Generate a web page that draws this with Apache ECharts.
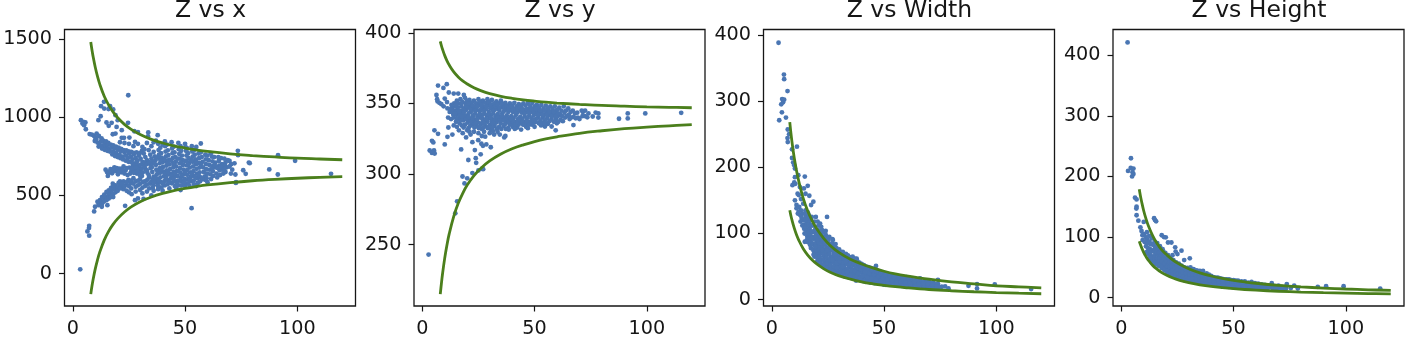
<!DOCTYPE html>
<html><head><meta charset="utf-8">
<style>html,body{margin:0;padding:0;background:#fff}#c{width:1411px;height:340px}</style>
<script src="https://cdn.jsdelivr.net/npm/echarts@6/dist/echarts.min.js"></script>
</head><body><div id="c"></div>
<script>
const titles = ['Z vs x','Z vs y','Z vs Width','Z vs Height'];
const xTicks = [0,50,100];
const yTicksA = [0,500,1000,1500];
const yTicksB = [250,300,350,400];
const yTicksC = [0,100,200,300,400];
const yTicksD = [0,100,200,300,400];

const curveX = [8,8.5,9,10,11,12,14,16,18,20,23,26,30,35,40,45,50,55,60,70,80,90,100,110,120];
const upperA = [1480,1432,1390,1319,1260,1211,1134,1077,1032,996,954,922,889,858,835,817,803,791,781,766,755,746,738,733,728];
const lowerA = [-130,-82,-40,31,89,138,215,272,317,352,394,427,460,490,513,531,545,557,567,582,594,603,610,616,620];
const upperB = [394,391,388.4,383.9,380.2,377.2,372.4,368.8,366,363.8,361.1,359.1,357,355.1,353.7,352.6,351.7,350.9,350.3,349.4,348.6,348.1,347.6,347.3,347];
const lowerB = [215,222.5,229.3,240.7,250,257.8,270.1,279.3,286.4,292.2,298.9,304,309.3,314.2,317.9,320.7,323,324.9,326.4,328.9,330.7,332.2,333.3,334.2,335];
const upperC = [268,252,238,214,195,179,153,134,119,107,93,82,71,61,54,48,43,39,36,31,27,24,21,19.5,18];
const lowerC = [135,127,120,108,98,90,77,67.5,60,54,47,41.5,36,31,27,24,21.6,19.6,18,15.4,13.5,12,10.8,9.8,9];
const upperD = [178.7,168,159,143,130,119,102,89,79,71.5,62,55,47.7,40.9,35.8,31.8,28.6,26,23.8,20.4,17.9,15.9,14.3,13,12];
const lowerD = [93,87.6,83,74.5,67.7,62,53,46.6,41.4,37.3,32.4,28.7,24.8,21.3,18.6,16.6,14.9,13.5,12.4,10.6,9.3,8.3,7.5,6.8,6.2];

const pointsA = [
[3.3,28],[24.7,1140],[52.9,419],[115,638],[99,721],[91.4,757],[91.3,634],[87.5,666],[78.4,710],[78.8,706],[75.9,661],[77,638],[73.5,785],[73.6,757],[72.6,580],[72.4,634],[70.4,640],[69.8,720],[57,832],
[7.3,306],[7.2,292],[6.5,270],[7.3,243],[9.5,398],[3.6,981],[4.7,970],[5.6,966],[5,949],[5.8,923],[4.3,960],
[13.9,1098],[16.6,1070],[12.6,1070],[14,1055],[15.9,1052],[18,1049],[19,1013],[12.4,1006],[11.4,981],[15,966],[17.3,964],[20,981],[24.6,964],[19.5,938],[21.8,917],[17.8,891],[21.8,868],[22.8,868],[25.2,870],[27.4,910],[27.7,842],[33.6,902],[37.8,885],[33.5,878],[37,850],[29,905],[16,945],[19,895],
[9.9,428],[11.4,438],[12.9,428],[12.1,470],[13.6,460],[15.4,438],[23.3,434],[15,491],[14,480],[16,500],[17.3,513],[18,490],[19.6,534],[21,566],[22.5,540],[26.2,508],[27.7,470],[29,481],[31,513],[31.5,478],[35,500],[40,530],[46,550],[48,535],[52,560],[60,585],[72.7,585],
[7.5,892],[8.5,888],[9.5,880],[10,870],[10.5,860],[11,838],[12,825],[9.8,848],[11.5,812],[12.5,845],[13.2,815],[14.1,832],[14.6,808],[15.4,822],[16.2,798],[17.1,806],[18,782],[18.6,800],[19.3,770],[20,792],[20.8,760],[21.4,782],[22.2,748],[23,775],[23.6,755],[24.5,738],[25,768],[25.8,748],[26.6,730],[27.2,762],[28,740],[28.8,722],[29.4,755],[30.2,735],[31,715],[31.6,768],[32.3,745],[33,725],[33.8,790],[34.5,760],[35,735],[35.8,705],
[15.2,650],[15.6,625],[16.8,668],[17.5,642],[18.5,680],[19.2,655],[20.1,635],[21,672],[21.8,648],[22.6,685],[23.5,660],[24.4,630],[25.2,678],[26,652],[26.8,690],[27.6,665],[28.5,640],[29.3,680],[30,655],[30.8,625],[31.6,695],[32.4,668],[33.2,645],[34,615],
[17.8,575],[18.8,555],[20.4,580],[21.4,558],[22.6,590],[23.8,570],[24.8,600],[25.8,578],[27,610],[28,590],[29,565],[30,605],[31.2,585],[32.2,560],[33.2,600],[34.4,575],[35.6,548],
[36,778],[36.5,750],[36.8,725],[37,695],[37.2,665],[37.4,635],[37.6,605],[37.8,578],[38.2,555],
[39,805],[39.3,770],[39.6,742],[40,712],[40.2,682],[40.4,652],[40.6,622],[40.8,592],[41,565],
[42,825],[42.3,788],[42.6,758],[42.9,728],[43.1,698],[43.3,668],[43.5,638],[43.7,608],[44,578],
[45,812],[45.3,775],[45.6,745],[45.9,715],[46.1,685],[46.3,655],[46.5,625],[46.7,595],[47,565],
[48,815],[48.3,785],[48.6,755],[48.9,725],[49.1,695],[49.3,665],[49.5,635],[49.7,605],[50,578],
[51,800],[51.3,770],[51.6,740],[51.9,708],[52.1,678],[52.3,648],[52.5,618],[52.7,590],
[54,790],[54.3,760],[54.6,730],[54.9,700],[55.1,670],[55.3,640],[55.5,610],[55.7,580],
[57,775],[57.4,745],[57.8,715],[58,680],[58.3,650],[58.6,620],[58.9,600],
[60,755],[60.5,725],[60.8,695],[61,665],[61.3,635],[61.6,605],
[63,745],[63.4,710],[63.7,680],[64,640],[64.3,615],[66,738],[66.4,700],[66.8,665],[67,640],[68,710],[68.6,680],[69,725],[70.5,700],[71,665],[72,705]
];
const fillA = [
[10.6,895],[11.6,880],[12.8,865],[13.5,850],[14.8,845],[15.8,835],[16.9,825],[18,820],[19.2,812],[20.4,805],[21.5,798],[22.6,790],[23.8,788],[24.8,782],[26,778],[27.1,772],[28.4,775],[29.8,770],[30.8,785],[31.9,795],
[13,800],[14.2,792],[15.4,785],[16.5,780],[17.6,762],[18.8,752],[20,745],[21.2,738],[22.4,730],[23.6,722],[24.8,715],[26,712],[27.2,705],[28.4,700],
[14.6,665],[16,645],[17,655],[18,662],[19.6,675],[20.6,650],[22,665],[23,640],[24,675],[25.6,640],[26.4,670],[27.2,645],[28,680],[29,655],[29.8,630],[30.6,672],[31.2,648],[32,682],[33,660],[33.8,630],[34.6,675],[35.4,650],[36,620],
[16,515],[17,530],[18,540],[19,565],[20,550],[21,590],[22,575],[23,555],[24,585],[25,560],[26,595],[27,575],[28,555],[29,595],[30,575],[31,550],[32,590],[33,570],[34,545],[35,590],[36,565],[37,590],[38,540],
[34.8,700],[35.2,680],[35.6,718],[35.8,605],[36.2,585],
[38.2,790],[38.4,760],[38.6,735],[38.7,705],[38.8,675],[38.9,645],[39,615],[39.2,585],[39.5,550],
[41.1,815],[41.3,780],[41.5,750],[41.6,720],[41.7,690],[41.8,660],[41.9,630],[42,600],[42.2,572],
[44.2,800],[44.4,770],[44.6,740],[44.7,710],[44.8,680],[44.9,650],[45,620],[45.2,590],[45.4,560],
[47.2,795],[47.4,765],[47.6,735],[47.7,705],[47.8,675],[47.9,645],[48,615],[48.2,590],[48.4,565],
[50.2,810],[50.4,785],[50.6,755],[50.7,722],[50.8,692],[50.9,662],[51,632],[51.2,602],[51.4,575],
[53.2,780],[53.4,748],[53.5,715],[53.6,685],[53.7,655],[53.8,625],[53.9,595],[54,570],
[56,768],[56.2,738],[56.3,708],[56.4,678],[56.5,648],[56.6,618],[56.7,590],
[59,760],[59.2,730],[59.3,700],[59.4,668],[59.5,638],[59.6,610],
[62,748],[62.2,718],[62.3,688],[62.4,655],[62.5,625],[65,720],[65.2,690],[65.4,660],[65.6,630],[67.5,735],[67.8,690],[68,650],[69.8,685],[64.8,745],[61.5,770]
];
const edgeA = [
[11,460],[12,450],[13,445],[14,465],[15,470],[16,480],[17,490],[18,510],[19,520],[20,530],[21,545],[13,490],[14,505],[15,522],[16,533],[17,548],[18,565],[24,530],[25,520],[26,545],[28,525],[30,535],[33,525],[36,530],[38,560],[43,545],[50,560],[55,560],
[21,840],[23,835],[25,830],[27,815],[29,830],[31,810],[33,835],[35,815],[36,840],[38,830],[40,825],[41,845],[44,840],[47,835],[50,830],[53,815],[55,810],
[31.8,710],[33,700],[34,712],[30,695],[28.6,720],[36.4,705],[37.5,742],[39.2,722],[40.8,732],[42.2,705],[43.6,725],[45,695],[46.6,735],[48.3,708],[50,720],[51.3,695],[52.8,725],[55,715],[57,695],
[37.9,655],[39.4,665],[40.9,640],[42.4,650],[43.9,625],[45.5,640],[47,655],[48.5,625],[50,648],[51.5,605],[53,638],[54.6,615],[56,630],[57.6,605],[36.8,615],[38.3,595],[40,575],[41.6,610],[43,585],[44.9,605],[46.4,575],[48,598],[49.5,585],[52,600],[60,640],[62,670],[63.2,695],[64.5,675],[66,680],[67.5,670]
];

const pointsB = [
[2.8,243],[7,362.7],[9.4,361],[10.9,363.7],[6.3,356],[11.8,357.8],[14,357],[16,357],[18.5,356],[6.6,353],[6.8,351.5],[7.6,350.5],[8.5,349.5],[9.5,348],[10,353.5],[11,351],[11.2,346.5],
[5.4,331],[7,328.5],[4.3,323.6],[4.9,322.4],[3.3,316.7],[5.2,316.7],[4.3,315],[5.5,314.6],[10,321],[11.2,326.4],[11.6,333],[13.4,328],[17.3,317.5],[20.5,310],[23.4,317],[23.8,311.3],[24,308],[26,314],[30.5,319],[22.3,322.6],[24.9,324],[26.3,321.5],[27,320],[28.5,321],[22.3,300.7],[25,302.6],[26.6,303.8],[27.1,303.5],[17.9,298.3],[20,297],[18.8,293.4],[15.5,280.7],[14.7,272.2],
[115.3,343.4],[99.3,343],[91.5,343],[91.5,339.4],[87.6,339.2],[78.4,343],[78.4,340],[77.2,343.6],[75.9,340.8],[73.5,340.2],[72.5,345],[71.5,344],[67.3,334.7],[59.4,331],[57.6,333.7],[54.6,333.7],
[18,329],[20,331],[19.5,326],[21.5,328],[23,330],[25,329],[26.5,327],[28,326.5],[30,329],[32,328],[34.5,328],[37,327],[36.5,326],
[11.5,340],[12.2,344],[12.8,339],[13.4,347],[13.8,342],[14.2,350],[14.6,345],[15,337],[15.4,352],[15.8,347],[16.2,342],[16.6,336],[17,353],[17.4,348],[17.8,343],[18.2,338],[18.4,333],
[19,354],[19.3,350],[19.6,345.5],[19.9,341],[20.2,336.5],[20.5,332.5],[21,352.5],[21.3,348.5],[21.6,344],[21.9,339.5],[22.2,335],[23,352],[23.3,347.5],[23.6,343],[23.9,338.5],[24.2,334],
[25,353],[25.3,349],[25.6,344.5],[25.9,340],[26.2,335.5],[26.5,332],[27,352],[27.3,347.5],[27.6,343],[27.9,338.5],[28.2,334],[29,353],[29.3,348.5],[29.6,344],[29.9,339.5],[30.2,335],[30.5,331.5],
[31,352.5],[31.3,347.5],[31.6,343],[31.9,338.5],[32.2,334],[33,351.5],[33.3,347],[33.6,342.5],[33.9,338],[34.2,333.5],[35,352],[35.3,347.5],[35.6,343],[35.9,338.5],[36.2,334],
[37,350.5],[37.3,346],[37.6,341.5],[37.9,337],[38.2,332.5],[39,350],[39.3,345.5],[39.6,341],[39.9,336.5],[40.2,333.5],[41,350.5],[41.3,346],[41.6,341.5],[41.9,337],[42.2,333],
[43,349.5],[43.3,345],[43.6,340.5],[43.9,336.5],[45,350],[45.3,345.5],[45.6,341],[45.9,337],[46.2,333.5],[47,350.5],[47.3,346],[47.6,341.5],[47.9,337],[49,350.5],[49.3,346],[49.6,341.5],[49.9,336.5],[50,333.5],
[51,349],[51.3,344.5],[51.6,340],[51.9,336],[53,349],[53.3,344.5],[53.6,340],[53.9,336],[55,348.5],[55.3,344],[55.6,339.5],[55.9,335.5],[57,348],[57.3,343.5],[57.6,339],[59,348],[59.3,343.5],[59.6,339],[59.9,336],
[61,347],[61.3,342.5],[61.6,338.5],[63,348],[63.3,343.5],[63.6,340],[65,346.5],[65.3,342],[65.6,339],[67,345],[67.3,340.5],[69,343.5],[69.3,340],[71,345],[71.3,341],[70,339]
];
const fillB = [
[13,349],[14,340],[14.8,348],[15.2,342],[16,350],[16.4,339],[17.2,345],[17.6,334.5],[18,351],[18.4,346],[18.8,341],[19,335],
[20,352],[20.3,347.5],[20.6,343],[20.9,338.5],[21.2,334],[22,350.5],[22.3,346],[22.6,341.5],[22.9,337],[23.2,333],[24,350],[24.3,345.5],[24.6,341],[24.9,336.5],[25.2,332.5],
[26,351],[26.3,346.5],[26.6,342],[26.9,337.5],[27.2,333],[28,350.5],[28.3,346],[28.6,341.5],[28.9,337],[29.2,332.5],[30,351],[30.3,346.5],[30.6,342],[30.9,337.5],[31.2,333],
[32,350],[32.3,345.5],[32.6,341],[32.9,336.5],[33.2,332],[34,350],[34.3,345],[34.6,340.5],[34.9,336],[35.2,332],[36,349],[36.3,344.5],[36.6,340],[36.9,335.5],[37.2,332],
[38,348.5],[38.3,344],[38.6,339.5],[38.9,335],[40,348.5],[40.3,344],[40.6,339.5],[40.9,335],[41.2,332],[42,348],[42.3,343.5],[42.6,339],[42.9,335],[44,348],[44.3,343.5],[44.6,339],[44.9,335],
[46,348.5],[46.3,344],[46.6,339.5],[46.9,335],[48,348.5],[48.3,344],[48.6,339.5],[48.9,335],[50,348],[50.3,343.5],[50.6,339],[52,347],[52.3,342.5],[52.6,338],[52.9,334.5],[54,346.5],[54.3,342],[54.6,338],[56,346.5],[56.3,342],[56.6,337.5],[58,346],[58.3,341.5],[58.6,337],
[60,345.5],[60.3,341],[60.6,337],[62,345],[62.3,341],[62.6,337.5],[64,345],[64.3,341],[66,344],[66.3,340],[68,343],[68.3,339.5],[72.5,341],[74,343],
[13.2,344],[12.4,346],[15,349],[15.6,344],[16.8,341],[17.8,338.5],[14,334.5],[15.4,333.5],[16.3,331],[21,330],[27.5,330],[31.5,330.5],[33.5,330],[38.5,331.5],[44,331.5],[47,332.5]
];
const holesB = [
[14.5,343],[15.4,339],[16.5,344.5],[17.4,350],[17.6,341],[18.5,343.5],[19.4,348],[19.5,339],[20.5,350],[20.6,340.5],[21.5,346],[21.5,337],[22.5,348.5],[22.5,339.5],[23.5,345],[23.5,336],[24.5,348],[24.5,339],[25.5,351],[25.5,342],[25.5,333.5],[26.5,349],[26.5,340],[27.5,345],[27.5,336],[28.5,348],[28.5,339],[29.5,351],[29.5,342],[29.5,333.5],[30.5,349],[30.5,340],[31.5,345],[31.5,336],[32.5,348],[32.5,339],[33.5,349],[33.5,340],[34.5,347],[34.5,338],[35.5,350],[35.5,341],[36.5,347],[36.5,338],[37.5,348],[37.5,339],[38.5,346],[38.5,337],[39.5,348],[39.5,339],[40.5,346],[40.5,337],[41.5,344],[41.5,335],[42.5,346],[42.5,337],[43.5,347],[43.5,338],[44.5,346],[44.5,337],[45.5,343],[45.5,335],[46.5,346],[46.5,337],[47.5,344],[47.5,335],[48.5,346],[48.5,337],[49.5,344],[49.5,338],[50.5,346],[50.5,337],[51.5,342],[52.5,345],[52.5,336],[53.5,342],[54.5,345],[54.5,336],[55.5,342],[56.5,344],[57.5,341],[58.5,344],[59.5,341],[60.5,343]
];

const pointsC = [
[3,388],[5.4,340],[5.5,333],[7,315],[4.6,303],[5.5,302],[5,298],[4.2,295],[4.5,283],[3.3,271],[6.3,275],[7.1,257],[7.7,250],[7,244],[7.1,238],[11.2,231],[9,227],[9,214],[9.5,207],[10,203],[10.3,198],[11.8,188],[14.7,186],[10.3,185],[10,177],[9.2,173],[10.5,175],[12.5,170],[14.3,168],[16,172],[16.7,157],[18.5,148],[17.5,143],[11.5,160],[12,158],[10.3,150],[11,143],[13,152],[15,160],[14,145],[19.6,125],[24.6,125],[21.5,115],[24,104],[27,91.6],[37.8,62],[33.8,67],[36,65],[46.4,51],[74,30],[99.3,23],[91.4,23.6],[91.4,17],[87.6,21],[78.7,17],[77.2,20],[75.7,19.6],[115.5,16],[14.7,87.5],
[11,138],[11.6,130],[12.2,140],[12.6,128],[13,135],[13.4,122],[13.8,130],[14,113],[14.2,120],[14.4,107],[14.6,100],[15,135],[15.2,125],[15.4,115],[15.6,105],[15.8,95],[16,87],[16.4,128],[16.6,118],[16.8,108],[17,98],[17.2,88],[17.4,78],[17.8,125],[18,112],[18.2,102],[18.4,92],[18.6,83],[18.8,73],[19,65],
[19.4,110],[19.6,100],[19.8,90],[20,80],[20.2,70],[20.4,60],[20.8,112],[21,100],[21.2,90],[21.4,80],[21.6,70],[21.8,60],[22,53],[22.4,105],[22.6,95],[22.8,85],[23,76],[23.2,66],[23.4,57],[23.6,50],[24,98],[24.2,88],[24.4,78],[24.6,69],[24.8,60],[25,52],[25.2,46],
[25.6,95],[25.8,84],[26,74],[26.2,65],[26.4,56],[26.6,48],[27.2,90],[27.4,80],[27.6,70],[27.8,60],[28,52],[28.2,44],[28.8,78],[29,68],[29.2,59],[29.4,50],[29.6,42],[30.4,72],[30.6,63],[30.8,54],[31,45],[31.2,39],[32,68],[32.2,60],[32.4,52],[32.6,44],[32.8,37],
[34,66],[34.2,58],[34.4,50],[34.6,42],[34.8,35],[36,60],[36.2,52],[36.4,45],[36.6,38],[36.8,32],[38,59],[38.2,51],[38.4,44],[38.6,37],[38.8,30],[40,54],[40.2,47],[40.4,40],[40.6,33],[40.8,28],
[42,50],[42.2,44],[42.4,38],[42.6,32],[42.8,27],[44,48],[44.2,42],[44.4,36],[44.6,30],[44.8,26],[46,46],[46.2,40],[46.4,34],[46.6,29],[46.8,25],[48,42],[48.2,37],[48.4,31],[48.6,26],[50,40],[50.2,35],[50.4,30],[50.6,25],[50.8,22.5],
[52,38],[52.3,33],[52.6,28],[52.9,24],[54,37],[54.3,32],[54.6,27],[54.9,22.5],[56,35],[56.3,30],[56.6,26],[56.9,22],[58,33],[58.3,29],[58.6,24],[58.9,20.5],[60,34],[60.3,28],[60.6,23],[60.9,20],
[62,30],[62.4,25],[62.8,20.5],[64,29],[64.4,24],[64.8,20],[66,32],[66.4,26],[66.8,21],[68,28],[68.4,23],[68.8,18.5],[70,27],[70.4,22],[70.8,18],[72,26],[72.4,21],[72.8,17.5],[74,24],[74.4,19]
];
const fillC = [
[12,133],[12.8,118],[13.2,125],[13.6,112],[14.8,130],[15,120],[15.2,110],[15.4,100],[15.6,90],[16,132],[16.2,123],[16.4,113],[16.6,103],[16.8,93],[17,83],[17.4,122],[17.6,113],[17.8,103],[18,95],[18.2,85],[18.4,76],[18.6,68],
[19,118],[19.2,105],[19.4,95],[19.6,85],[19.8,75],[20,65],[20.2,57],[20.4,118],[20.6,105],[20.8,95],[21,85],[21.2,75],[21.4,65],[21.6,56],[22,110],[22.2,100],[22.4,90],[22.6,80],[22.8,71],[23,61],[23.2,52],[23.6,102],[23.8,93],[24,83],[24.2,73],[24.4,64],[24.6,55],[24.8,48],
[25.2,90],[25.4,79],[25.6,69],[25.8,60],[26,51],[26.2,45],[26.8,85],[27,75],[27.2,65],[27.4,56],[27.6,47],[27.8,42],[28.4,84],[28.6,73],[28.8,63],[29,54],[29.2,46],[29.4,39],[30,76],[30.2,67],[30.4,58],[30.6,49],[30.8,42],[31.6,72],[31.8,64],[32,56],[32.2,48],[32.4,40],[32.6,35],
[33,69],[33.2,62],[33.4,54],[33.6,46],[33.8,39],[34,34],[35,64],[35.2,55],[35.4,47],[35.6,40],[35.8,33],[37,62],[37.2,55],[37.4,48],[37.6,41],[37.8,35],[38,30],[39,56],[39.2,49],[39.4,42],[39.6,35],[39.8,29],[41,52],[41.2,45],[41.4,38],[41.6,31],[41.8,27],
[43,49],[43.2,43],[43.4,37],[43.6,31],[43.8,26],[45,47],[45.2,41],[45.4,35],[45.6,29],[45.8,25],[47,44],[47.2,38],[47.4,32],[47.6,27],[49,41],[49.2,36],[49.4,31],[49.6,26],[49.8,23],
[51,39],[51.3,34],[51.6,29],[51.9,25],[53,37],[53.3,32],[53.6,27],[53.9,23],[55,36],[55.3,31],[55.6,27],[55.9,23],[57,34],[57.3,29],[57.6,25],[57.9,21],[59,32],[59.3,28],[59.6,24],[59.9,20],
[61,31],[61.3,27],[61.6,23],[61.9,20],[63,29],[63.4,25],[63.8,21],[65,29],[65.4,25],[65.8,21],[67,27],[67.4,23],[67.8,19],[69,26],[69.4,22],[69.8,18],[71,25],[71.4,21],[71.8,18],[73,23],[73.4,19]
];
const holesC = [
[19.5,80],[20.5,90],[21.5,95],[22.5,75],[23.5,85],[24.5,95],[25,75],[26,79],[27,60],[27.5,50],[28,68],[29,48],[30,62],[31,68],[31.5,50],[32,42],[33,57],[33.5,42],[34.5,62],[35,37],[35.5,44],[36.5,55],[37,43],[37.5,29],[38.5,55],[38.5,40],[39.5,46],[39.5,32],[40.5,50],[40.5,36],[41.5,42],[42.5,47],[42.5,34],[43.5,40],[44.5,45],[44.5,32],[45.5,38],[46.5,43],[46.5,31],[47.5,35],[48.5,39],[48.5,28],[49.5,33],[50.5,37],[51.5,31],[52.5,35],[53.5,29],[54.5,34],[55.5,25],[56.5,33],[57.5,27],[58.5,31],[59.5,26],[61.5,25],[63.5,27],[65.5,23],[67.5,25],[69.5,24],[71.5,23]
];

const pointsD = [
[2.8,421],[4.3,230],[3,209],[4.2,214],[5.4,213],[5,207],[5.4,204],[4.8,200],[6.1,165],[6.8,162],[6.8,150],[6.7,147],[6.8,136],[7.6,127],[10,125],[8.5,116],[9,110],[9.4,103],[14.6,131],[15,128],[15.5,126],
[18,103],[19,100],[19.8,99.5],[20.8,91],[22.3,91],[24,83],[26.8,77.5],[24.2,76],[25,72],[22.8,70],[30.5,65],[28,62],[67,24],[73.7,22.5],[77,19.8],[75.5,16],[78.6,15],[87.5,18],[91.2,19],[99,19],[115.3,15],
[9.5,95],[10.2,105],[10.4,92],[10.8,100],[11,85],[11.4,108],[11.6,96],[11.8,82],[12,72],[12.4,102],[12.6,92],[12.8,80],[13,70],[13.2,64],[13.6,98],[13.8,88],[14,78],[14.2,68],[14.4,60],[14.8,92],[15,82],[15.2,72],[15.4,62],[15.6,55],
[16,90],[16.2,80],[16.4,70],[16.6,60],[16.8,52],[17.2,85],[17.4,75],[17.6,65],[17.8,56],[18,49],[18.4,80],[18.6,70],[18.8,60],[19,52],[19.2,45],[19.6,74],[19.8,65],[20,56],[20.2,48],[20.4,42],[20.8,70],[21,62],[21.2,54],[21.4,46],[21.6,40],
[22,64],[22.2,56],[22.4,48],[22.6,41],[22.8,37],[23.2,62],[23.4,54],[23.6,46],[23.8,38],[24.4,58],[24.6,50],[24.8,43],[25,36],[25.6,56],[25.8,48],[26,41],[26.2,33],[26.8,53],[27,46],[27.2,38],[27.4,31],[28,50],[28.2,43],[28.4,36],[28.6,30],
[29.4,49],[29.6,42],[29.8,35],[30,28],[30.8,50],[31,43],[31.2,36],[31.4,29],[32.2,47],[32.4,40],[32.6,33],[32.8,27],[33.6,45],[33.8,39],[34,32],[34.2,26],[35,44],[35.2,38],[35.4,32],[35.6,25],[36.4,44],[36.6,37],[36.8,31],[37,25],
[38,40],[38.2,34],[38.4,28],[38.6,23],[40,36],[40.2,31],[40.4,26],[40.6,22],[42,33],[42.2,28],[42.4,24],[42.6,20.5],[44,32],[44.2,27],[44.4,23],[44.6,19.5],[46,30],[46.2,26],[46.4,22],[46.6,18.5],
[48,30],[48.3,25],[48.6,21],[48.9,18],[50,29],[50.3,24],[50.6,20],[50.9,17],[52,28],[52.4,23],[52.8,19],[53.2,16.5],[55,27],[55.4,22],[55.8,18],[56.2,15.5],[58,26],[58.4,21],[58.8,17],[61,23],[61.4,19],[61.8,15],[64,21],[64.4,18],[64.8,14.5],[67,20],[67.4,16],[70,20],[70.4,16],[70.8,13.5],[73,18],[73.4,15]
];
const fillD = [
[10.8,92],[11.2,75],[12,90],[12.2,78],[12.6,67],[13,88],[13.2,76],[13.4,66],[13.6,58],[14.4,87],[14.6,76],[14.8,66],[15,57],[15.6,86],[15.8,75],[16,65],[16.2,55],[16.6,84],[16.8,74],[17,64],[17.2,54],[17.6,80],[17.8,70],[18,60],[18.2,51],[18.8,75],[19,65],[19.2,56],[19.4,48],[20,70],[20.2,60],[20.4,52],[20.6,44],[21.2,66],[21.4,58],[21.6,50],[21.8,42],
[22.4,60],[22.6,52],[22.8,44],[23,39],[23.6,58],[23.8,50],[24,42],[24.2,36],[24.8,54],[25,46],[25.2,39],[25.4,33],[26,52],[26.2,44],[26.4,37],[26.6,31],[27.2,50],[27.4,42],[27.6,35],[27.8,29],[28.6,47],[28.8,40],[29,33],[29.2,28],[30,46],[30.2,39],[30.4,32],[30.6,27],[31.4,46],[31.6,39],[31.8,32],[32,27],
[33,44],[33.2,37],[33.4,30],[33.6,25],[34.4,41],[34.6,35],[34.8,29],[35,24],[35.8,41],[36,34],[36,28],[36.2,23.5],[37.2,38],[37.4,32],[37.6,27],[37.8,23],[39,38],[39.2,32],[39.4,27],[39.6,22],[41,34],[41.2,29],[41.4,25],[41.6,21],[43,33],[43.2,28],[43.4,24],[43.6,20],[45,31],[45.2,26],[45.4,22],[45.6,19],
[47,30],[47.3,25],[47.6,21],[47.9,18],[49,29],[49.3,24],[49.6,20],[49.9,17],[51,28],[51.4,23],[51.8,19],[52.2,16.5],[53.5,27],[53.9,22],[54.3,18],[54.7,16],[56.5,25],[56.9,21],[57.3,17],[59.5,24],[59.9,20],[60.3,16],[62.5,22],[62.9,18],[63.3,15],[65.5,20],[65.9,17],[68.5,19],[68.9,15],[71.5,18],[71.9,15]
];

const panels = [
  {left:64.5, yMin:-206, yMax:1560, yTicks:yTicksA, pts:pointsA.concat(fillA,edgeA), up:upperA, lo:lowerA},
  {left:414, yMin:206.6, yMax:402.4, yTicks:yTicksB, pts:pointsB.concat(fillB,holesB), up:upperB, lo:lowerB},
  {left:763.5, yMin:-9.5, yMax:408, yTicks:yTicksC, pts:pointsC.concat(fillC,holesC), up:upperC, lo:lowerC},
  {left:1113, yMin:-13.7, yMax:442.3, yTicks:yTicksD, pts:pointsD.concat(fillD), up:upperD, lo:lowerD}
];
const ink = '#161616';
const font = 'DejaVu Sans';
const pw = 291, gridTop = 29.5, ph = 276.5;
const pair = arr => curveX.map((x,i)=>[x,arr[i]]);
const tickText = v => String(v);
const option = {
  animation:false, backgroundColor:'#fff',
  title: panels.map((p,i)=>({text:titles[i], left:p.left+pw/2-4.5, top:-6, textAlign:'center',
    textStyle:{fontFamily:font,fontSize:23.5,fontWeight:'normal',color:ink}})),
  grid: panels.map(p=>({left:p.left,top:gridTop,width:pw,height:ph,show:true,borderColor:ink,borderWidth:1.3,backgroundColor:'#fff',containLabel:false,outerBoundsMode:'none'})),
  xAxis: panels.map((p,i)=>({gridIndex:i,type:'value',min:-3.7,max:125.9,splitLine:{show:false},axisLine:{show:false,onZero:false},
    axisTick:{show:true,length:5.5,lineStyle:{color:ink,width:1.2},customValues:xTicks},
    axisLabel:{show:true,color:ink,fontFamily:font,fontSize:19.2,margin:14,formatter:tickText,customValues:xTicks}})),
  yAxis: panels.map((p,i)=>({gridIndex:i,type:'value',min:p.yMin,max:p.yMax,splitLine:{show:false},axisLine:{show:false,onZero:false},
    axisTick:{show:true,length:5.5,lineStyle:{color:ink,width:1.2},customValues:p.yTicks},
    axisLabel:{show:true,color:ink,fontFamily:font,fontSize:19.2,margin:12.5,formatter:tickText,customValues:p.yTicks}})),
  series: panels.flatMap((p,i)=>[
    {type:'scatter',xAxisIndex:i,yAxisIndex:i,data:p.pts,symbolSize:4.8,itemStyle:{color:'#4a76b3',opacity:1},z:2,silent:true},
    {type:'line',xAxisIndex:i,yAxisIndex:i,data:pair(p.up),smooth:0.4,showSymbol:false,lineStyle:{color:'#4b7f1c',width:2.8},z:3,silent:true},
    {type:'line',xAxisIndex:i,yAxisIndex:i,data:pair(p.lo),smooth:0.4,showSymbol:false,lineStyle:{color:'#4b7f1c',width:2.8},z:3,silent:true}
  ])
};
echarts.init(document.getElementById('c'),null,{renderer:'canvas'}).setOption(option);
</script></body></html>
